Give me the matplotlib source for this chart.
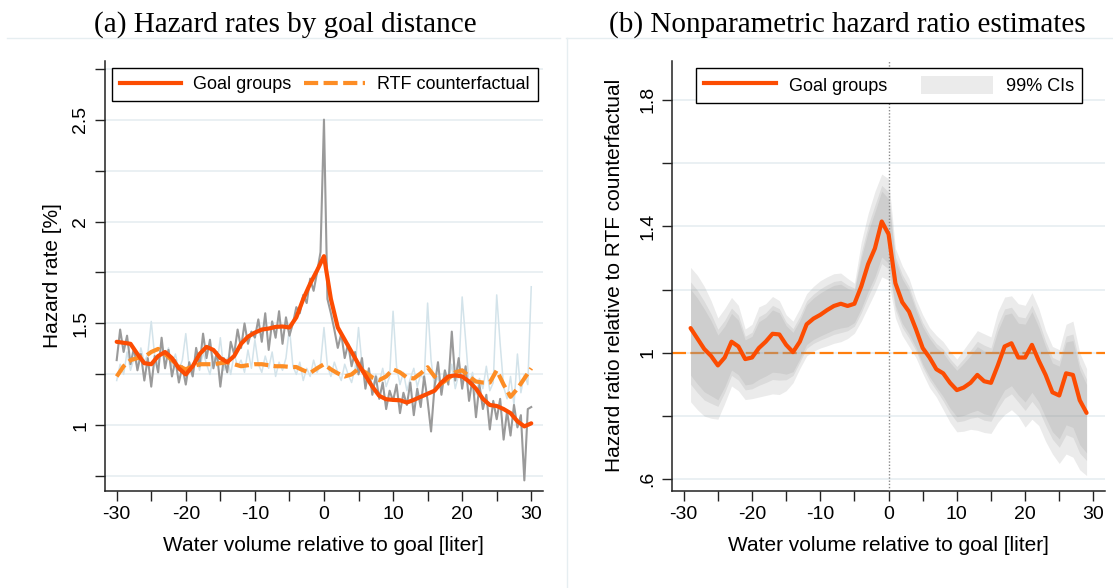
import numpy as np
import matplotlib.pyplot as plt
from matplotlib.lines import Line2D
from matplotlib.patches import Patch

plt.rcParams['font.family'] = ['Liberation Sans', 'DejaVu Sans']

# ---- panel (a): hazard rates, raw series every 0.5 liter ----
vol_raw = np.arange(-30, 30.01, 0.5)
goal_raw = [
    1.32, 1.47, 1.36, 1.44, 1.30, 1.38, 1.27, 1.35, 1.22, 1.33,
    1.19, 1.34, 1.26, 1.43, 1.28, 1.37, 1.24, 1.32, 1.21, 1.29,
    1.20, 1.31, 1.24, 1.38, 1.29, 1.45, 1.33, 1.42, 1.28, 1.36,
    1.19, 1.33, 1.26, 1.41, 1.35, 1.47, 1.38, 1.50, 1.40, 1.46,
    1.43, 1.52, 1.41, 1.55, 1.37, 1.51, 1.43, 1.56, 1.40, 1.53,
    1.44, 1.50, 1.58, 1.55, 1.64, 1.60, 1.72, 1.66, 1.75, 1.85,
    2.50,
    1.62, 1.55, 1.47, 1.38, 1.45, 1.33, 1.40, 1.29, 1.36, 1.25,
    1.33, 1.18, 1.28, 1.15, 1.24, 1.13, 1.21, 1.08, 1.17, 1.12,
    1.20, 1.06, 1.16, 1.10, 1.21, 1.05, 1.18, 1.09, 1.24, 1.12,
    0.97, 1.19, 1.31, 1.15, 1.27, 1.20, 1.46, 1.22, 1.33, 1.18,
    1.29, 1.12, 1.23, 1.04, 1.20, 1.08, 1.15, 0.98, 1.12, 1.03,
    1.13, 0.93, 1.07, 0.95, 1.10, 0.99, 1.05, 0.73, 1.08, 1.09,
]
rtf_raw = [
    1.22, 1.30, 1.25, 1.36, 1.27, 1.33, 1.29, 1.38, 1.31, 1.35,
    1.51, 1.34, 1.30, 1.40, 1.33, 1.38, 1.29, 1.35, 1.27, 1.32,
    1.45, 1.28, 1.24, 1.33, 1.27, 1.36, 1.30, 1.25, 1.34, 1.29,
    1.43, 1.27, 1.33, 1.25, 1.35, 1.29, 1.32, 1.26, 1.37, 1.28,
    1.42, 1.30, 1.26, 1.34, 1.28, 1.36, 1.24, 1.31, 1.27, 1.33,
    1.48, 1.29, 1.25, 1.31, 1.22, 1.28, 1.24, 1.32, 1.26, 1.30,
    1.48,
    1.29, 1.24, 1.31, 1.26, 1.22, 1.30, 1.25, 1.21, 1.28, 1.48,
    1.30, 1.22, 1.27, 1.18, 1.25, 1.21, 1.28, 1.19, 1.24, 1.56,
    1.29, 1.20, 1.26, 1.17, 1.23, 1.28, 1.19, 1.25, 1.22, 1.60,
    1.32, 1.19, 1.24, 1.16, 1.27, 1.21, 1.30, 1.18, 1.25, 1.63,
    1.42, 1.20, 1.26, 1.15, 1.23, 1.18, 1.29, 1.17, 1.21, 1.64,
    1.40, 1.19, 1.13, 1.24, 1.10, 1.35, 1.16, 1.25, 1.20, 1.68,
]

# smoothed series, every liter
vol_smooth = np.arange(-30, 31)
goal_smooth = [
    1.41, 1.405, 1.40, 1.35, 1.305, 1.30, 1.34, 1.36, 1.33, 1.28,
    1.25, 1.29, 1.35, 1.385, 1.37, 1.33, 1.31, 1.34, 1.40, 1.435,
    1.455, 1.47, 1.475, 1.483, 1.485, 1.48, 1.53, 1.62, 1.695, 1.76,
    1.83,
    1.62, 1.48, 1.42, 1.36, 1.30, 1.245, 1.19, 1.145, 1.128, 1.125,
    1.123, 1.112, 1.125, 1.14, 1.155, 1.17, 1.21, 1.24, 1.245, 1.24,
    1.215, 1.18, 1.13, 1.10, 1.095, 1.08, 1.06, 1.02, 0.995, 1.01,
]
rtf_smooth = [
    1.24, 1.29, 1.32, 1.33, 1.335, 1.36, 1.375, 1.35, 1.32, 1.29,
    1.275, 1.29, 1.30, 1.30, 1.30, 1.305, 1.31, 1.30, 1.29, 1.295,
    1.30, 1.30, 1.295, 1.29, 1.29, 1.287, 1.286, 1.27, 1.257, 1.28,
    1.30,
    1.275, 1.255, 1.24, 1.25, 1.278, 1.26, 1.235, 1.222, 1.24, 1.275,
    1.26, 1.235, 1.23, 1.255, 1.285, 1.24, 1.205, 1.23, 1.26, 1.27,
    1.24, 1.215, 1.21, 1.21, 1.27, 1.20, 1.14, 1.18, 1.23, 1.28,
]

# ---- panel (b): hazard ratio and 99% CI ----
vol_ratio = np.arange(-29, 30)
ratio = [
    1.078, 1.045, 1.012, 0.99, 0.96, 0.985, 1.035, 1.02, 0.98, 0.985,
    1.015, 1.035, 1.06, 1.058, 1.025, 1.002, 1.035, 1.09, 1.108, 1.12,
    1.135, 1.148, 1.155, 1.148, 1.155, 1.21, 1.28, 1.33, 1.415,
    1.375,
    1.22, 1.16, 1.13, 1.075, 1.015, 0.985, 0.948, 0.935, 0.905, 0.882,
    0.89, 0.905, 0.93, 0.91, 0.905, 0.96, 1.02, 1.03, 0.985, 0.985,
    1.025, 0.975, 0.93, 0.875, 0.865, 0.935, 0.93, 0.85, 0.81,
]
ci99_hi = [
    1.27, 1.245, 1.21, 1.165, 1.11, 1.14, 1.175, 1.15, 1.075, 1.09,
    1.145, 1.155, 1.178, 1.165, 1.12, 1.10, 1.14, 1.187, 1.21, 1.228,
    1.24, 1.25, 1.252, 1.235, 1.22, 1.35, 1.44, 1.51, 1.565,
    1.55,
    1.33, 1.275, 1.235, 1.17, 1.12, 1.08, 1.055, 1.035, 1.005, 0.98,
    1.01, 1.04, 1.07, 1.06, 1.05, 1.13, 1.176, 1.18, 1.155, 1.15,
    1.19, 1.14, 1.07, 1.02, 1.01, 1.09, 1.10, 1.00, 0.95,
]
ci99_lo = [
    0.845, 0.82, 0.80, 0.793, 0.79, 0.84, 0.895, 0.88, 0.852, 0.855,
    0.86, 0.865, 0.87, 0.868, 0.88, 0.905, 0.95, 0.99, 1.005, 1.015,
    1.022, 1.03, 1.035, 1.045, 1.062, 1.10, 1.145, 1.19, 1.24,
    1.23,
    1.11, 1.055, 1.02, 0.985, 0.935, 0.89, 0.86, 0.82, 0.78, 0.75,
    0.752, 0.758, 0.755, 0.748, 0.745, 0.78, 0.805, 0.82, 0.80, 0.765,
    0.79, 0.77, 0.72, 0.68, 0.65, 0.68, 0.67, 0.63, 0.612,
]

C_SMOOTH = '#fc4c02'
C_RTF = '#fd8d25'
C_GRID = '#e6eef1'

fig = plt.figure(figsize=(11.13, 5.88), dpi=100)
ax1 = fig.add_axes([104.6 / 1113, 1 - 491 / 588, 438.4 / 1113, 430.5 / 588])
ax2 = fig.add_axes([671.8 / 1113, 1 - 491 / 588, 433.2 / 1113, 430.5 / 588])


def style_axes(ax, major, minor, labels):
    for s in ['top', 'right']:
        ax.spines[s].set_visible(False)
    for s in ['left', 'bottom']:
        ax.spines[s].set_linewidth(1.1)
        ax.spines[s].set_color('#222222')
    ax.set_xlim(-31.75, 31.7)
    ax.set_xticks(range(-30, 31, 10))
    ax.set_xticklabels(['-30', '-20', '-10', '0', '10', '20', '30'])
    ax.set_xticks(range(-25, 30, 10), minor=True)
    ax.set_yticks(major)
    ax.set_yticklabels(labels, rotation=90, va='center')
    ax.set_yticks(minor, minor=True)
    ax.tick_params(which='both', direction='out', length=7, width=1.0,
                   labelsize=14, pad=4, color='#222222')
    ax.grid(True, which='both', axis='y', color=C_GRID, lw=1.2)
    ax.set_axisbelow(True)
    ax.set_xlabel('Water volume relative to goal [liter]', fontsize=15)
    ax.xaxis.set_label_coords(0.5, -0.105)


# panel (a)
style_axes(ax1, [1, 1.5, 2, 2.5], [0.75, 1.25, 1.75, 2.25, 2.75], ['1', '1.5', '2', '2.5'])
ax1.set_ylim(0.678, 2.79)
ax1.plot(vol_raw, rtf_raw, color='#d3e3ea', lw=1.1, zorder=2)
ax1.plot(vol_raw, goal_raw, color='#9a9a9a', lw=1.5, zorder=3)
ax1.plot(vol_smooth, rtf_smooth, color=C_RTF, lw=3, ls=(0, (3.4, 1.3)), zorder=4)
ax1.plot(vol_smooth, goal_smooth, color=C_SMOOTH, lw=3, zorder=5,
         solid_joinstyle='round', solid_capstyle='round')
ax1.set_ylabel('Hazard rate [%]', fontsize=15)
ax1.yaxis.set_label_coords(-0.097, 0.5)

h_goal = Line2D([], [], color=C_SMOOTH, lw=3)
h_rtf = Line2D([], [], color=C_RTF, lw=3, ls=(0, (3.4, 1.3)))
leg1 = ax1.legend([h_goal, h_rtf], ['Goal groups', 'RTF counterfactual'], ncol=2,
                  loc='upper left', bbox_to_anchor=(0.0164, 0.8957, 0.9711, 0.0873),
                  mode='expand', borderaxespad=0, fancybox=False, edgecolor='black',
                  framealpha=1, fontsize=13, handlelength=3.4, handletextpad=0.65,
                  borderpad=0.45)
leg1.get_frame().set_linewidth(1.0)

# panel (b)
style_axes(ax2, [0.6, 1.0, 1.4, 1.8], [0.8, 1.2, 1.6], ['.6', '1', '1.4', '1.8'])
ax2.set_ylim(0.563, 1.924)
ax2.axhline(1, color='#ff7f0e', lw=1.6, ls=(0, (6.3, 2.0)), zorder=1.5)
ratio_a = np.array(ratio)
hi_a = np.array(ci99_hi)
lo_a = np.array(ci99_lo)
# nested bands: 99%, 95%, 90%
for z in (2.576, 1.96, 1.645):
    k = z / 2.576
    ax2.fill_between(vol_ratio, ratio_a - (ratio_a - lo_a) * k, ratio_a + (hi_a - ratio_a) * k,
                     color='#969696', alpha=0.19, lw=0, zorder=2)
ax2.axvline(0, color='#8a8a8a', lw=1.0, ls=(0, (1, 1.3)), zorder=3)
ax2.plot(vol_ratio, ratio, color=C_SMOOTH, lw=3, zorder=4,
         solid_joinstyle='round', solid_capstyle='round')
ax2.set_ylabel('Hazard ratio relative to RTF counterfactual', fontsize=15)
ax2.yaxis.set_label_coords(-0.110, 0.5)

h_ci = Patch(facecolor='#ebebeb', edgecolor='none')
leg2 = ax2.legend([h_goal, h_ci], ['Goal groups', '99% CIs'], ncol=2,
                  loc='upper left', bbox_to_anchor=(0.0554, 0.8957, 0.8916, 0.0873),
                  mode='expand', borderaxespad=0, fancybox=False, edgecolor='black',
                  framealpha=1, fontsize=13, handlelength=4.0, handleheight=1.15,
                  handletextpad=0.7, borderpad=0.45)
leg2.get_frame().set_linewidth(1.0)

# titles and panel borders
fig.text(285 / 1113, 1 - 25 / 588, '(a) Hazard rates by goal distance',
         family='Liberation Serif', fontsize=21, ha='center', va='center')
fig.text(847.5 / 1113, 1 - 25 / 588, '(b) Nonparametric hazard ratio estimates',
         family='Liberation Serif', fontsize=21, ha='center', va='center')
fig.add_artist(Line2D([7 / 1113, 560 / 1113], [1 - 38 / 588] * 2, color=C_GRID, lw=1))
fig.add_artist(Line2D([566 / 1113, 1], [1 - 38 / 588] * 2, color=C_GRID, lw=1))
fig.add_artist(Line2D([567 / 1113] * 2, [0, 1 - 38 / 588], color=C_GRID, lw=1))

fig.savefig('out.png', dpi=100)
